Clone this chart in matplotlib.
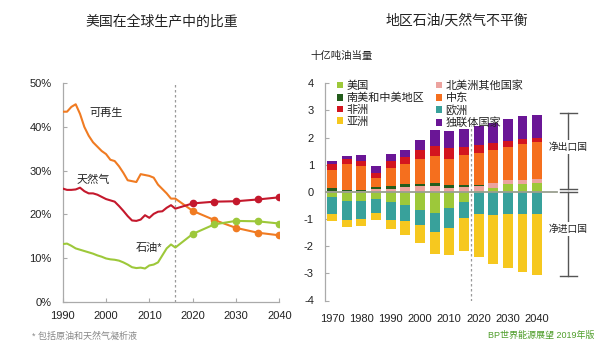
import matplotlib
matplotlib.use("Agg")
import matplotlib.pyplot as plt
import numpy as np
from matplotlib.patches import Patch

plt.rcParams['font.family'] = ['Liberation Sans', 'Noto Sans CJK SC', 'DejaVu Sans']
plt.rcParams['axes.unicode_minus'] = False

# ---------------- US share of global production (%) ----------------
hist_years = list(range(1990, 2017))
proj_years = [2020, 2025, 2030, 2035, 2040]

renew_hist = [43.5, 43.5, 44.6, 45.2, 43.0, 40.0, 38.0, 36.5, 35.5, 34.5, 33.8, 32.5, 32.2,
              31.0, 29.5, 27.8, 27.6, 27.4, 29.2, 29.0, 28.8, 28.4, 26.8, 25.8, 24.8, 23.6, 23.6]
renew_proj = [20.8, 18.7, 16.9, 15.8, 15.2]

gas_hist = [25.9, 25.6, 25.6, 25.7, 26.1, 25.3, 24.8, 24.8, 24.5, 24.0, 23.5, 23.2, 22.9,
            21.9, 20.8, 19.6, 18.6, 18.5, 18.8, 19.8, 19.2, 20.1, 20.6, 20.7, 21.5, 22.1, 21.3]
gas_proj = [22.5, 22.9, 23.0, 23.4, 23.9]

oil_hist = [13.2, 13.3, 12.8, 12.2, 11.9, 11.6, 11.3, 11.0, 10.6, 10.3, 9.9, 9.7, 9.6,
            9.4, 9.0, 8.5, 7.9, 7.7, 7.8, 7.6, 8.3, 8.5, 9.0, 10.6, 12.2, 13.1, 12.4]
oil_proj = [15.5, 17.7, 18.5, 18.4, 17.9]

left_xticks = [1990, 2000, 2010, 2020, 2030, 2040]
left_yticks = [0, 10, 20, 30, 40, 50]

# ---------------- Regional oil/gas net balance (Btoe) ----------------
bar_years = [1970, 1975, 1980, 1985, 1990, 1995, 2000, 2005, 2010, 2015,
             2020, 2025, 2030, 2035, 2040]
us = [-0.18, -0.34, -0.34, -0.27, -0.39, -0.49, -0.67, -0.76, -0.59, -0.37,
      0.05, 0.16, 0.28, 0.28, 0.31]
other_na = [0.03, 0.03, 0.03, 0.12, 0.12, 0.18, 0.20, 0.21, 0.16, 0.17,
            0.16, 0.15, 0.15, 0.17, 0.16]
s_c_america = [0.12, 0.03, 0.03, 0.05, 0.09, 0.10, 0.09, 0.12, 0.11, 0.07,
               0.06, 0.0, 0.0, 0.0, 0.0]
middle_east = [0.65, 0.95, 0.88, 0.36, 0.67, 0.74, 0.94, 0.99, 0.96, 1.13,
               1.17, 1.23, 1.23, 1.33, 1.37]
africa = [0.22, 0.19, 0.21, 0.18, 0.25, 0.27, 0.31, 0.37, 0.39, 0.28,
          0.28, 0.25, 0.21, 0.18, 0.15]
cis = [0.12, 0.13, 0.22, 0.26, 0.27, 0.26, 0.36, 0.58, 0.61, 0.65,
       0.70, 0.74, 0.81, 0.83, 0.86]
europe = [-0.62, -0.70, -0.65, -0.50, -0.63, -0.58, -0.55, -0.71, -0.74, -0.59,
          -0.80, -0.86, -0.83, -0.83, -0.80]
asia = [-0.27, -0.27, -0.28, -0.25, -0.36, -0.53, -0.65, -0.80, -0.98, -1.23,
        -1.60, -1.78, -1.99, -2.11, -2.25]

right_xticks = [1970, 1980, 1990, 2000, 2010, 2020, 2030, 2040]
right_yticks = [-4, -3, -2, -1, 0, 1, 2, 3, 4]

C_US = '#9dc83a'
C_SCA = '#235c1c'
C_AFR = '#d3151f'
C_ASIA = '#f6c81f'
C_ONA = '#eca39f'
C_ME = '#f56f1e'
C_EUR = '#38a19b'
C_CIS = '#6a1696'

C_RENEW = '#f07b22'
C_GAS = '#c4182c'
C_OIL = '#9dc83a'

TXT = '#222222'
SPINE = '#aaaaaa'

fig = plt.figure(figsize=(6, 3.42), dpi=100)

# ---------------- left panel ----------------
ax1 = fig.add_axes([62.7 / 600, 1 - 301.7 / 342, (279.3 - 62.7) / 600, (301.7 - 83.3) / 342])
for hist, proj, col in [(renew_hist, renew_proj, C_RENEW),
                        (gas_hist, gas_proj, C_GAS),
                        (oil_hist, oil_proj, C_OIL)]:
    ax1.plot(hist_years + proj_years, hist + proj, color=col, lw=1.5, zorder=3,
             solid_joinstyle='round')
    ax1.plot(proj_years, proj, 'o', color=col, ms=4.5, zorder=4)

ax1.axvline(2016, ymin=0, ymax=1, color='#9a9a9a', lw=0.9, ls=(0, (2, 2)), zorder=1)
ax1.set_xlim(1990, 2040)
ax1.set_ylim(0, 50)
ax1.set_xticks(left_xticks)
ax1.set_yticks(left_yticks)
ax1.set_yticklabels([f'{v}%' for v in left_yticks])
for s in ['top', 'right']:
    ax1.spines[s].set_visible(False)
for s in ['left', 'bottom']:
    ax1.spines[s].set_color(SPINE)
    ax1.spines[s].set_linewidth(0.9)
ax1.tick_params(axis='both', direction='in', length=3, color=SPINE, labelsize=8, labelcolor=TXT)
ax1.tick_params(axis='y', pad=8)
ax1.tick_params(axis='x', pad=7)

ax1.text(2000.0, 43.2, '可再生', fontsize=8, color=TXT, ha='center', va='center')
ax1.text(1997.0, 27.9, '天然气', fontsize=8, color=TXT, ha='center', va='center')
ax1.text(2009.9, 12.4, '石油*', fontsize=8, color=TXT, ha='center', va='center')

fig.text(162 / 600, 1 - 21 / 342, '美国在全球生产中的比重', fontsize=10, color=TXT,
         ha='center', va='center')
fig.text(32 / 600, 1 - 336 / 342, '* 包括原油和天然气凝析液', fontsize=6.5, color='#888888',
         ha='left', va='center')

# ---------------- right panel ----------------
x0 = 1967.6
px_per_year = 2.93
ax2 = fig.add_axes([325 / 600, 1 - 300.5 / 342, (590 - 325) / 600, (300.5 - 83.3) / 342])
ax2.set_xlim(x0, x0 + (590 - 325) / px_per_year)
ax2.set_ylim(-4, 4)

bw = 3.4
x = np.array(bar_years, dtype=float)
us_arr = np.array(us)
us_pos = np.clip(us_arr, 0, None)
us_neg = np.clip(us_arr, None, 0)

pos_layers = [(us_pos, C_US), (np.array(other_na), C_ONA), (np.array(s_c_america), C_SCA),
              (np.array(middle_east), C_ME), (np.array(africa), C_AFR), (np.array(cis), C_CIS)]
bottom = np.zeros(len(x))
for vals, col in pos_layers:
    ax2.bar(x, vals, width=bw, bottom=bottom, color=col, linewidth=0, zorder=2)
    bottom = bottom + vals

neg_layers = [(us_neg, C_US), (np.array(europe), C_EUR), (np.array(asia), C_ASIA)]
bottom = np.zeros(len(x))
for vals, col in neg_layers:
    ax2.bar(x, vals, width=bw, bottom=bottom, color=col, linewidth=0, zorder=2)
    bottom = bottom + vals

ax2.plot([x0, 2046.8], [0, 0], color='#9a9f90', lw=1.3, zorder=3)
ax2.plot([2017.5, 2017.5], [-4, 2.45], color='#9a9a9a', lw=0.9, ls=(0, (2, 2)), zorder=1)

# export / import brackets
bx = 1970 + (568.3 - 332) / px_per_year
cap = 8.5 / px_per_year
bcol = '#555555'
for top, low in [(2.9, 0.11), (-0.02, -3.1)]:
    ax2.plot([bx, bx], [low, top], color=bcol, lw=1.0, zorder=3)
    ax2.plot([bx - cap, bx + cap], [top, top], color=bcol, lw=1.0, zorder=3)
    ax2.plot([bx - cap, bx + cap], [low, low], color=bcol, lw=1.0, zorder=3)
ax2.text(bx, 1.65, '净出口国', fontsize=7, color=TXT, ha='center', va='center', zorder=4,
         bbox=dict(facecolor='white', edgecolor='none', pad=1.5))
ax2.text(bx, -1.35, '净进口国', fontsize=7, color=TXT, ha='center', va='center', zorder=4,
         bbox=dict(facecolor='white', edgecolor='none', pad=1.5))

ax2.set_xticks(right_xticks)
ax2.set_yticks(right_yticks)
for s in ['top', 'right', 'bottom']:
    ax2.spines[s].set_visible(False)
ax2.spines['left'].set_color(SPINE)
ax2.spines['left'].set_linewidth(0.9)
ax2.tick_params(axis='y', direction='in', length=3, color=SPINE, labelsize=8,
                labelcolor=TXT, pad=8)
ax2.tick_params(axis='x', length=0, labelsize=8, labelcolor=TXT, pad=10)

labels = ['美国', '南美和中美地区', '非洲', '亚洲', '北美洲其他国家', '中东', '欧洲', '独联体国家']
cols = [C_US, C_SCA, C_AFR, C_ASIA, C_ONA, C_ME, C_EUR, C_CIS]
handles = [Patch(facecolor=c, edgecolor='none') for c in cols]
ax2.legend(handles, labels, ncol=2, loc='upper left', bbox_to_anchor=(6 / 265, 1.04),
           frameon=False, fontsize=8, handlelength=0.55, handleheight=0.55,
           handletextpad=0.35, labelspacing=0.15, columnspacing=1.0, borderpad=0,
           labelcolor=TXT)

fig.text(310 / 600, 1 - 56 / 342, '十亿吨油当量', fontsize=7.5, color=TXT, ha='left', va='center')
fig.text(457 / 600, 1 - 21 / 342, '地区石油/天然气不平衡', fontsize=10, color=TXT,
         ha='center', va='center')
fig.text(594 / 600, 1 - 335 / 342, 'BP世界能源展望 2019年版', fontsize=6.5, color='#4f9e2a',
         ha='right', va='center')

fig.savefig('out.png', dpi=100, facecolor='white')
